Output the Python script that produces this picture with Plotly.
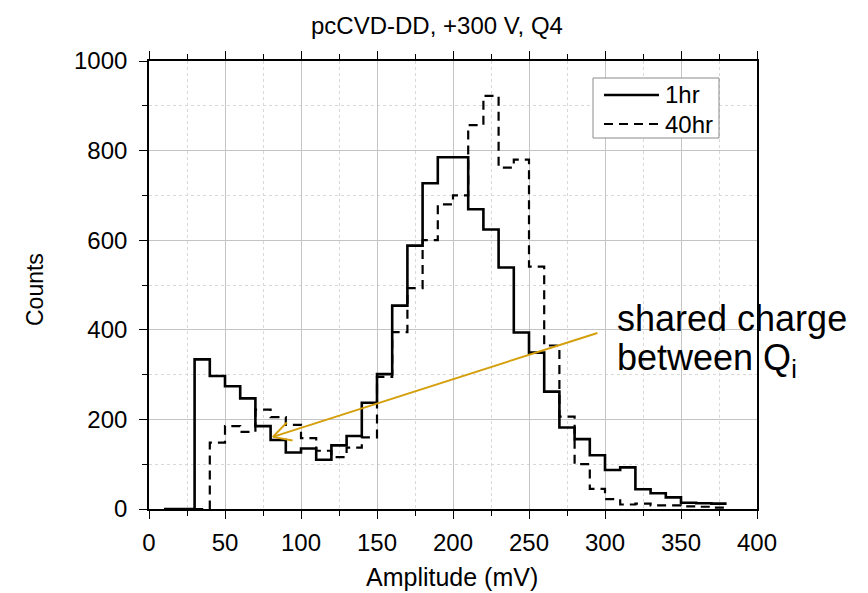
import math
import plotly.graph_objects as go

# ---------------- data ----------------
bin_edges = list(range(10, 390, 10))  # 10 .. 380
counts_1hr = [0, 0, 334, 297, 274, 247, 185, 154, 126, 135, 110, 142, 163, 237,
              301, 454, 588, 727, 785, 785, 669, 624, 539, 394, 349, 262, 182,
              156, 120, 87, 93, 44, 35, 26, 14, 13, 12]
counts_40hr = [0, 0, 0, 148, 185, 172, 222, 205, 188, 158, 130, 116, 137, 160,
               295, 395, 493, 600, 680, 700, 857, 922, 762, 780, 541, 365, 206,
               100, 45, 22, 10, 12, 8, 8, 6, 5, 3]
series_names = ["1hr", "40hr"]
x_ticks = [0, 50, 100, 150, 200, 250, 300, 350, 400]
y_ticks = [0, 200, 400, 600, 800, 1000]
title_text = "pcCVD-DD, +300 V, Q4"
x_title = "Amplitude (mV)"
y_title = "Counts"
note_lines = ["shared charge", "between Q<sub>i</sub>"]
arrow_tail = (295, 393)
arrow_head = (81.5, 161)

# ---------------- layout constants ----------------
BODY = 8                      # default page margin around the figure
W, H = 860, 585
ML, MR, MT, MB = 141, 111, 53, 84
XR = (0, 400)
YR = (0, 1000)
FONT = "Liberation Sans, Arial, sans-serif"
ARROW_COLOR = "#D49F0A"
SOLID_W = 2.6
DASH_W = 2.2
DASH = "9px,6px"

pw = W - ML - MR
ph = H - MT - MB


def to_paper(px, py):
    """page pixel -> paper coords"""
    return (px - BODY - ML) / pw, (H - MB - (py - BODY)) / ph


def px_x(v):
    return BODY + ML + (v - XR[0]) / (XR[1] - XR[0]) * pw


def px_y(v):
    return BODY + MT + (YR[1] - v) / (YR[1] - YR[0]) * ph


fig = go.Figure()
fig.add_trace(go.Scatter(
    x=bin_edges, y=counts_40hr + [counts_40hr[-1]], mode="lines",
    line=dict(shape="hv", color="black", width=DASH_W, dash=DASH),
    name=series_names[1], showlegend=False))
fig.add_trace(go.Scatter(
    x=bin_edges, y=counts_1hr + [counts_1hr[-1]], mode="lines",
    line=dict(shape="hv", color="black", width=SOLID_W),
    name=series_names[0], showlegend=False))

axis_common = dict(
    showline=True, linecolor="black", linewidth=1.6,
    ticks="outside", ticklen=8, tickwidth=1.4, tickcolor="black",
    showgrid=True, gridcolor="#c4c4c4", gridwidth=1,
    zeroline=False,
    tickfont=dict(family=FONT, size=24, color="black"),
)

fig.update_xaxes(range=list(XR), tickvals=x_ticks, mirror="ticks",
                 ticklabelstandoff=3,
                 minor=dict(dtick=25, ticks="outside", ticklen=5, tickcolor="black",
                            showgrid=True, gridcolor="#d8d8d8", griddash="dot"),
                 **axis_common)
fig.update_yaxes(range=list(YR), tickvals=y_ticks, mirror=True,
                 ticklabelstandoff=7,
                 minor=dict(dtick=100, ticks="outside", ticklen=5, tickcolor="black",
                            showgrid=True, gridcolor="#d8d8d8", griddash="dot"),
                 **axis_common)

annotations = []


def add_text(text, px, py, size, xanchor="center", angle=0):
    x, y = to_paper(px, py)
    annotations.append(dict(text=text, x=x, y=y, xref="paper", yref="paper",
                            showarrow=False, xanchor=xanchor, yanchor="middle",
                            textangle=angle, align="left", borderpad=0,
                            font=dict(family=FONT, size=size, color="black")))


add_text(title_text, 437, 25, 24)
add_text(x_title, 452, 577, 25)
add_text(y_title, 35, 290, 23, angle=-90)
add_text(note_lines[0], 616, 318, 36, xanchor="left")
add_text(note_lines[1], 616, 360, 36, xanchor="left")

shapes = []
# annotation arrow
shapes.append(dict(type="line", xref="x", yref="y",
                   x0=arrow_tail[0], y0=arrow_tail[1], x1=arrow_head[0], y1=arrow_head[1],
                   line=dict(color=ARROW_COLOR, width=2)))
hx, hy = px_x(arrow_head[0]), px_y(arrow_head[1])
tx, ty = px_x(arrow_tail[0]), px_y(arrow_tail[1])
ang = math.atan2(ty - hy, tx - hx)
L = 20
for d in (math.radians(28), -math.radians(28)):
    ex = hx + L * math.cos(ang + d)
    ey = hy + L * math.sin(ang + d)
    dx = XR[0] + (ex - BODY - ML) / pw * (XR[1] - XR[0])
    dy = YR[1] - (ey - BODY - MT) / ph * (YR[1] - YR[0])
    shapes.append(dict(type="line", xref="x", yref="y",
                       x0=arrow_head[0], y0=arrow_head[1], x1=dx, y1=dy,
                       line=dict(color=ARROW_COLOR, width=2)))

# legend box (drawn manually to match sample length)
bx0, by0 = to_paper(593, 78)
bx1, by1 = to_paper(719, 138)
shapes.append(dict(type="rect", xref="paper", yref="paper",
                   x0=bx0, y0=by1, x1=bx1, y1=by0,
                   fillcolor="white", line=dict(color="#8a8a8a", width=1)))
for i, (name, dash, w) in enumerate([(series_names[0], "solid", SOLID_W),
                                     (series_names[1], DASH, DASH_W)]):
    yy = 95 + i * 29
    lx0, ly = to_paper(604, yy)
    lx1, _ = to_paper(659, yy)
    shapes.append(dict(type="line", xref="paper", yref="paper",
                       x0=lx0, y0=ly, x1=lx1, y1=ly,
                       line=dict(color="black", width=w, dash=dash)))
    add_text(name, 664, yy, 24, xanchor="left")

fig.update_layout(
    width=W, height=H,
    margin=dict(l=ML, r=MR, t=MT, b=MB, pad=0),
    paper_bgcolor="white", plot_bgcolor="white",
    showlegend=False,
    annotations=annotations,
    shapes=shapes,
    font=dict(family=FONT),
)

fig.write_html("out.html")
